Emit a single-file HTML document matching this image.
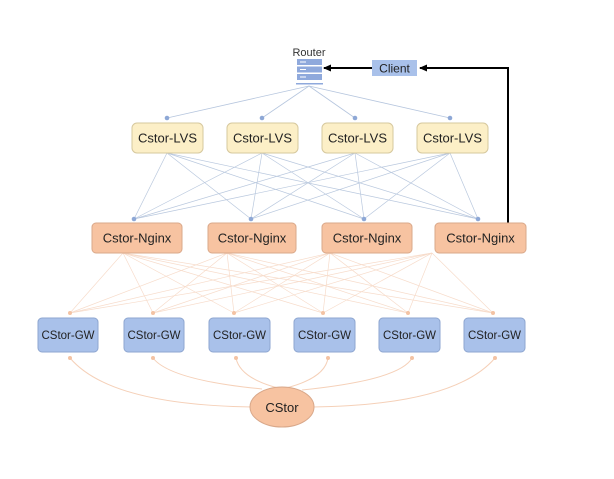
<!DOCTYPE html>
<html><head><style>
body{margin:0;background:#fff;}
svg text{font-family:"Liberation Sans",sans-serif;}
</style></head><body>
<svg width="614" height="474" viewBox="0 0 614 474" xmlns="http://www.w3.org/2000/svg">
<defs><marker id="ah" markerWidth="8" markerHeight="8" refX="7" refY="4" orient="auto" markerUnits="userSpaceOnUse"><path d="M0,0.5 L8,4 L0,7.5z" fill="#000"/></marker></defs>
<g stroke="#b6c6de" stroke-width="0.8" fill="none">
<line x1="309" y1="86" x2="167" y2="118"/><line x1="309" y1="86" x2="262" y2="118"/>
<line x1="309" y1="86" x2="355" y2="118"/><line x1="309" y1="86" x2="450" y2="118"/>
</g>
<g stroke="#b9c8de" stroke-width="0.7" fill="none">
<line x1="167" y1="153" x2="134" y2="219"/><line x1="167" y1="153" x2="251" y2="219"/><line x1="167" y1="153" x2="364" y2="219"/><line x1="167" y1="153" x2="478" y2="219"/>
<line x1="262" y1="153" x2="134" y2="219"/><line x1="262" y1="153" x2="251" y2="219"/><line x1="262" y1="153" x2="364" y2="219"/><line x1="262" y1="153" x2="478" y2="219"/>
<line x1="355" y1="153" x2="134" y2="219"/><line x1="355" y1="153" x2="251" y2="219"/><line x1="355" y1="153" x2="364" y2="219"/><line x1="355" y1="153" x2="478" y2="219"/>
<line x1="450" y1="153" x2="134" y2="219"/><line x1="450" y1="153" x2="251" y2="219"/><line x1="450" y1="153" x2="364" y2="219"/><line x1="450" y1="153" x2="478" y2="219"/>
</g>
<g stroke="#f7dccb" stroke-width="0.7" fill="none">
<path d="M123 253L70 313M123 253L153 313M123 253L234 313M123 253L323 313M123 253L408 313M123 253L493 313"/>
<path d="M227 253L70 313M227 253L153 313M227 253L234 313M227 253L323 313M227 253L408 313M227 253L493 313"/>
<path d="M330 253L70 313M330 253L153 313M330 253L234 313M330 253L323 313M330 253L408 313M330 253L493 313"/>
<path d="M432 253L70 313M432 253L153 313M432 253L234 313M432 253L323 313M432 253L408 313M432 253L493 313"/>
</g>
<g stroke="#f5d0b8" stroke-width="1" fill="none">
<path d="M70 358 Q110 405 252 407"/>
<path d="M153 358 Q170 380 262 389"/>
<path d="M236 358 Q240 378 278 388"/>
<path d="M328 358 Q325 378 286 388"/>
<path d="M412 358 Q400 380 302 390"/>
<path d="M495 358 Q455 405 313 407"/>
</g>
<g fill="#f3c3a4">
<circle cx="70" cy="313" r="2"/><circle cx="153" cy="313" r="2"/><circle cx="234" cy="313" r="2"/><circle cx="323" cy="313" r="2"/><circle cx="408" cy="313" r="2"/><circle cx="493" cy="313" r="2"/>
<circle cx="70" cy="358" r="2"/><circle cx="153" cy="358" r="2"/><circle cx="236" cy="358" r="2"/><circle cx="328" cy="358" r="2"/><circle cx="412" cy="358" r="2"/><circle cx="495" cy="358" r="2"/>
</g>
<g fill="#8ea8d6">
<circle cx="167" cy="118" r="2.3"/><circle cx="262" cy="118" r="2.3"/><circle cx="355" cy="118" r="2.3"/><circle cx="450" cy="118" r="2.3"/>
<circle cx="134" cy="219" r="2.3"/><circle cx="251" cy="219" r="2.3"/><circle cx="364" cy="219" r="2.3"/><circle cx="478" cy="219" r="2.3"/>
</g>
<text x="309" y="56" font-size="11" text-anchor="middle" fill="#333">Router</text>
<g fill="#8fa9dc"><rect x="297" y="59" width="25" height="6"/><rect x="297" y="66.5" width="25" height="6"/><rect x="297" y="74" width="25" height="6"/>
<rect x="296" y="83" width="27" height="1.5"/></g>
<g fill="#fff"><rect x="300" y="61.5" width="6" height="1"/><rect x="300" y="69" width="6" height="1"/><rect x="300" y="76.5" width="6" height="1"/></g>
<rect x="372" y="60" width="45" height="16" fill="#a9c1ea"/>
<text x="394.5" y="72.5" font-size="12" text-anchor="middle" fill="#222">Client</text>
<line x1="372" y1="68" x2="324" y2="68" stroke="#000" stroke-width="2" marker-end="url(#ah)"/>
<polyline points="508,223 508,68 420,68" fill="none" stroke="#000" stroke-width="2" marker-end="url(#ah)"/>
<g fill="#fcefc7" stroke="#d6c89e" stroke-width="1">
<rect x="132" y="123" width="71" height="30" rx="5"/><rect x="227" y="123" width="71" height="30" rx="5"/><rect x="322" y="123" width="71" height="30" rx="5"/><rect x="417" y="123" width="71" height="30" rx="5"/>
</g>
<g font-size="13" text-anchor="middle" fill="#222">
<text x="167.5" y="142.5">Cstor-LVS</text><text x="262.5" y="142.5">Cstor-LVS</text><text x="357.5" y="142.5">Cstor-LVS</text><text x="452.5" y="142.5">Cstor-LVS</text>
</g>
<g fill="#f7c3a1" stroke="#d9a88a" stroke-width="1">
<rect x="92" y="223" width="90" height="30" rx="4"/><rect x="208" y="223" width="88" height="30" rx="4"/><rect x="322" y="223" width="90" height="30" rx="4"/><rect x="435" y="223" width="91" height="30" rx="4"/>
</g>
<g font-size="13" text-anchor="middle" fill="#222">
<text x="137" y="242.5">Cstor-Nginx</text><text x="252" y="242.5">Cstor-Nginx</text><text x="367" y="242.5">Cstor-Nginx</text><text x="480.5" y="242.5">Cstor-Nginx</text>
</g>
<g fill="#a9c1ea" stroke="#8ea6d0" stroke-width="1">
<rect x="38" y="318" width="60" height="34" rx="4"/><rect x="124" y="318" width="60" height="34" rx="4"/><rect x="209" y="318" width="61" height="34" rx="4"/><rect x="294" y="318" width="61" height="34" rx="4"/><rect x="379" y="318" width="61" height="34" rx="4"/><rect x="464" y="318" width="61" height="34" rx="4"/>
</g>
<g font-size="11.5" text-anchor="middle" fill="#222">
<text x="68" y="339">CStor-GW</text><text x="154" y="339">CStor-GW</text><text x="239.5" y="339">CStor-GW</text><text x="324.5" y="339">CStor-GW</text><text x="409.5" y="339">CStor-GW</text><text x="494.5" y="339">CStor-GW</text>
</g>
<ellipse cx="282" cy="407" rx="32" ry="20" fill="#f7c3a1" stroke="#d9a88a"/>
<text x="282" y="412" font-size="13" text-anchor="middle" fill="#222">CStor</text>
</svg>
</body></html>
